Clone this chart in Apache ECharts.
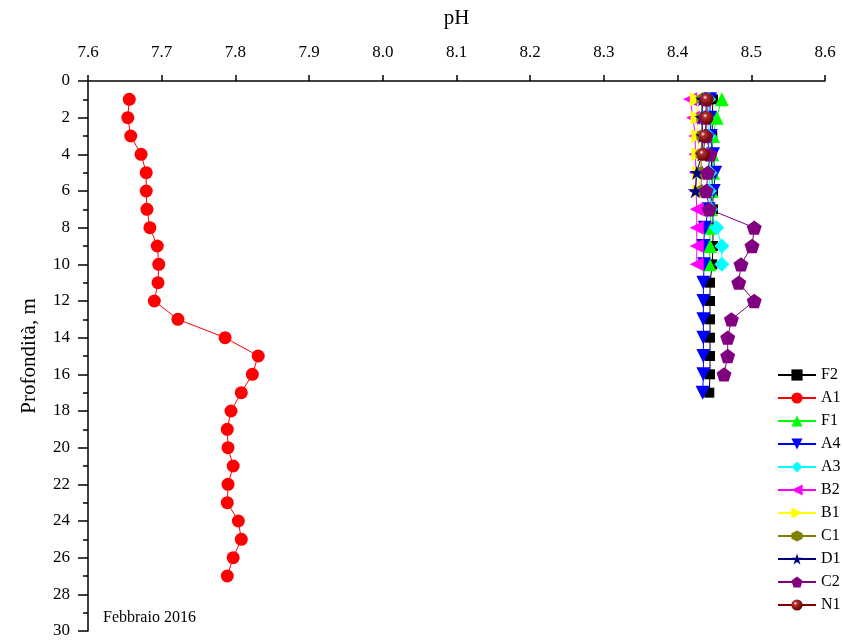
<!DOCTYPE html>
<html>
<head>
<meta charset="utf-8">
<script src="https://cdn.jsdelivr.net/npm/echarts@6/dist/echarts.min.js"></script>
<style>html,body{margin:0;padding:0;background:#fff}#c{width:843px;height:644px}</style>
</head>
<body>
<div id="c"></div>
<script>
// ---- data (pH by depth, m) ----
const xTicks = ['7.6','7.7','7.8','7.9','8.0','8.1','8.2','8.3','8.4','8.5','8.6'];
const depthF2 = [1,2,3,4,5,6,7,8,9,10,11,12,13,14,15,16,17];
const F2 = [8.448,8.447,8.447,8.446,8.446,8.448,8.448,8.448,8.448,8.447,8.444,8.444,8.444,8.444,8.444,8.444,8.443];
const depthA1 = [1,2,3,4,5,6,7,8,9,10,11,12,13,14,15,16,17,18,19,20,21,22,23,24,25,26,27];
const A1 = [7.656,7.654,7.658,7.672,7.679,7.679,7.680,7.684,7.694,7.696,7.695,7.690,7.722,7.786,7.831,7.823,7.808,7.794,7.789,7.790,7.797,7.790,7.789,7.804,7.808,7.797,7.789];
const depthF1 = [1,2,3,4,5,6,7,8,9,10];
const F1 = [8.460,8.453,8.448,8.447,8.448,8.446,8.445,8.444,8.444,8.443];
const depthA4 = [1,2,3,4,5,6,7,8,9,10,11,12,13,14,15,16,17];
const A4 = [8.444,8.444,8.445,8.448,8.451,8.449,8.442,8.437,8.435,8.436,8.435,8.435,8.435,8.435,8.435,8.435,8.434];
const depthA3 = [1,2,3,4,5,6,7,8,9,10];
const A3 = [8.442,8.441,8.442,8.443,8.444,8.443,8.445,8.453,8.460,8.460];
const depthB2 = [1,2,3,4,5,6,7,8,9,10];
const B2 = [8.417,8.421,8.424,8.424,8.425,8.425,8.426,8.426,8.426,8.426];
const depthB1 = [1,2,3,4,5,6];
const B1 = [8.426,8.427,8.428,8.428,8.429,8.429];
const depthC1 = [1,2,3,4,5,6];
const C1 = [8.433,8.433,8.433,8.432,8.432,8.432];
const depthD1 = [1,2,3,4,5,6];
const D1 = [8.434,8.433,8.434,8.433,8.426,8.424];
const depthC2 = [1,2,3,4,5,6,7,8,9,10,11,12,13,14,15,16];
const C2 = [8.439,8.438,8.439,8.444,8.441,8.439,8.443,8.504,8.501,8.486,8.483,8.504,8.473,8.468,8.468,8.463];
const depthN1 = [1,2,3,4];
const N1 = [8.440,8.440,8.437,8.435];

const FONT = '"Liberation Serif","Times New Roman",serif';
const P = {
  tri: 'path://M5,0 L10,10 L0,10 Z',
  down: 'path://M0,0 L10,0 L5,10 Z',
  left: 'path://M0,5 L10,0 L10,10 Z',
  right: 'path://M0,0 L10,5 L0,10 Z',
  hex: 'path://M4.33,0 L8.66,2.5 L8.66,7.5 L4.33,10 L0,7.5 L0,2.5 Z',
  star: 'path://M5,0 L6.18,3.62 L10,3.62 L6.91,5.86 L8.09,9.51 L5,7.27 L1.91,9.51 L3.09,5.86 L0,3.62 L3.82,3.62 Z',
  pent: 'path://M5,0 L10,3.63 L8.09,9.51 L1.91,9.51 L0,3.63 Z'
};

function mk(name, depths, vals, color, symbol, size, extra) {
  const s = {
    name: name, type: 'line',
    data: vals.map((v, i) => [v, depths[i]]),
    symbol: symbol, symbolSize: size, symbolKeepAspect: true,
    lineStyle: { color: color, width: 1 },
    itemStyle: { color: color },
    emphasis: { disabled: true },
    animation: false
  };
  return Object.assign(s, extra || {});
}

const sphere = {
  type: 'radial', x: 0.35, y: 0.35, r: 0.65,
  colorStops: [{ offset: 0, color: '#ffffff' }, { offset: 0.25, color: '#b03030' }, { offset: 1, color: '#6a0000' }]
};

const series = [
  mk('F2', depthF2, F2, '#000000', 'rect', 10),
  mk('A1', depthA1, A1, '#ff0000', 'circle', 13),
  mk('F1', depthF1, F1, '#00ff00', P.tri, 14),
  mk('A4', depthA4, A4, '#0000ff', P.down, 14),
  mk('A3', depthA3, A3, '#00ffff', 'diamond', 15),
  mk('B2', depthB2, B2, '#ff00ff', P.left, 14),
  mk('B1', depthB1, B1, '#ffff00', P.right, 14),
  mk('C1', depthC1, C1, '#808000', P.hex, 13),
  mk('D1', depthD1, D1, '#000080', P.star, 15),
  mk('C2', depthC2, C2, '#800080', P.pent, 15),
  mk('N1', depthN1, N1, '#800000', 'circle', 13, { itemStyle: { color: sphere } })
];

const chart = echarts.init(document.getElementById('c'), null, { renderer: 'canvas' });
chart.setOption({
  backgroundColor: '#fff',
  animation: false,
  grid: { left: 88, right: 18, top: 81, bottom: 13, containLabel: false, outerBoundsMode: 'none' },
  xAxis: {
    type: 'value', position: 'top', min: 7.6, max: 8.6, interval: 0.1,
    name: 'pH', nameLocation: 'middle', nameGap: 52, nameMoveOverlap: false,
    nameTextStyle: { fontFamily: FONT, fontSize: 21, color: '#000' },
    axisLine: { show: true, lineStyle: { color: '#000', width: 1.5 } },
    axisTick: { show: true, inside: false, length: 6, lineStyle: { color: '#000', width: 1.5 } },
    axisLabel: { fontFamily: FONT, fontSize: 17, color: '#000', margin: 20,
      formatter: v => xTicks[Math.round((v - 7.6) * 10)] },
    splitLine: { show: false }
  },
  yAxis: {
    type: 'value', inverse: true, min: 0, max: 30, interval: 2,
    name: 'Profondità, m', nameLocation: 'middle', nameGap: 48, nameRotate: 90, nameMoveOverlap: false,
    nameTextStyle: { fontFamily: FONT, fontSize: 21, color: '#000' },
    axisLine: { show: true, lineStyle: { color: '#000', width: 1.5 } },
    axisTick: { show: true, inside: false, length: 10, lineStyle: { color: '#000', width: 1.5 } },
    minorTick: { show: true, splitNumber: 2, length: 5, lineStyle: { color: '#000', width: 1.5 } },
    axisLabel: { fontFamily: FONT, fontSize: 17, color: '#000', margin: 18 },
    splitLine: { show: false }
  },
  legend: {
    orient: 'vertical', left: 772, top: 362,
    itemWidth: 38, itemHeight: 14, itemGap: 7,
    textStyle: { fontFamily: FONT, fontSize: 16, color: '#000', padding: 0 },
    data: series.map(s => s.name),
    selectedMode: false
  },
  graphic: [{
    type: 'text', left: 103, top: 610,
    style: { text: 'Febbraio 2016', font: '16px ' + FONT, fill: '#000' }
  }],
  series: series
});
</script>
</body>
</html>
